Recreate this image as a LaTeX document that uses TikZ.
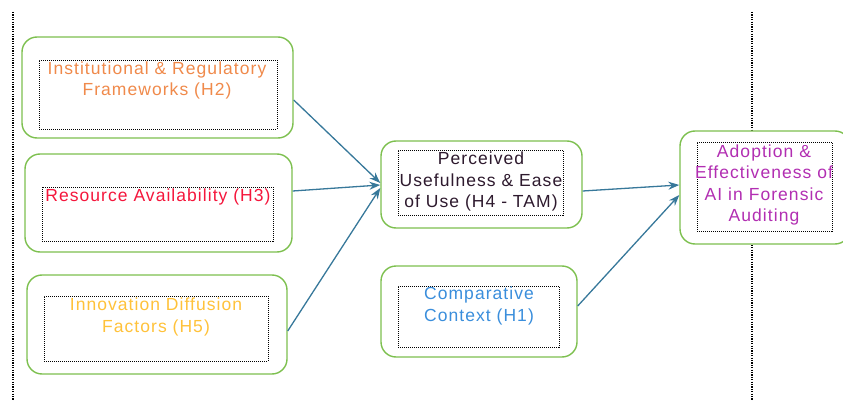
\documentclass[tikz,border=0pt]{standalone}
\usepackage{fontspec}
\setmainfont{Liberation Sans}[LetterSpace=6]
\usetikzlibrary{arrows.meta}

\definecolor{boxgreen}{HTML}{7DC04F}
\definecolor{arrowblue}{HTML}{37789A}
\definecolor{txtorange}{HTML}{F08A4B}
\definecolor{txtred}{HTML}{F5163C}
\definecolor{txtyellow}{HTML}{FFC23A}
\definecolor{txtdark}{HTML}{2E1A2E}
\definecolor{txtblue}{HTML}{3A8EDC}
\definecolor{txtpurple}{HTML}{B22EB2}

\begin{document}
\begin{tikzpicture}[x=1pt, y=-1pt,
    outerbox/.style={draw=boxgreen, line width=1.4pt, rounded corners=15pt, fill=white, inner sep=0pt},
    frame/.style={draw, dash pattern=on 1pt off 1pt, line width=0.9pt, inner sep=0pt},
    label/.style={align=center, inner sep=0pt, font=\fontsize{17.5}{21.5}\selectfont},
    link/.style={draw=arrowblue, line width=1.3pt, -{Stealth[length=11pt, width=8pt]}}]
    \useasboundingbox (0,0) rectangle (843,401);

    % Dotted separators
    \draw[dash pattern=on 1.2pt off 1.2pt, line width=1.2pt] (13,12) -- (13,401);
    \draw[dash pattern=on 1.2pt off 1.2pt, line width=1.2pt] (752,12) -- (752,401);

    % Left column
    \node[outerbox, minimum width=271, minimum height=101] (h2) at (157.5,87.5) {};
    \node[frame, minimum width=238, minimum height=69] (h2f) at (158,94.5) {};
    \node[label, text=txtorange] (h2t) at (157,80.5) {Institutional \& Regulatory\\Frameworks (H2)};

    \node[outerbox, minimum width=267, minimum height=98] (h3) at (158.5,203) {};
    \node[frame, minimum width=231, minimum height=54] (h3f) at (157.5,214) {};
    \node[label, text=txtred] (h3t) at (158,197) {Resource Availability (H3)};

    \node[outerbox, minimum width=260, minimum height=99] (h5) at (157,324.5) {};
    \node[frame, minimum width=224, minimum height=65] (h5f) at (156,328.5) {};
    \node[label, text=txtyellow] (h5t) at (156,317) {Innovation Diffusion\\Factors (H5)};

    % Middle column
    \node[outerbox, minimum width=201, minimum height=87] (h4) at (481.5,184.5) {};
    \node[frame, minimum width=165, minimum height=65] (h4f) at (480.5,182.5) {};
    \node[label, text=txtdark] (h4t) at (481,181.5) {Perceived\\Usefulness \& Ease\\of Use (H4 - TAM)};

    \node[outerbox, minimum width=196, minimum height=91] (h1) at (479,311.5) {};
    \node[frame, minimum width=161, minimum height=61] (h1f) at (478.5,316.5) {};
    \node[label, text=txtblue] (h1t) at (479,306) {Comparative\\Context (H1)};

    % Outcome
    \node[outerbox, minimum width=170, minimum height=113] (out) at (765,187.5) {};
    \node[frame, minimum width=135, minimum height=89] (outf) at (764.5,186.5) {};
    \node[label, text=txtpurple] (outt) at (764,185) {Adoption \&\\Effectiveness of\\AI in Forensic\\Auditing};

    % Paths
    \draw[link] ([yshift=-12.5pt]h2.east) -- ([yshift=1.5pt]h4.west);
    \draw[link] ([yshift=12pt]h3.east) -- ([yshift=-0.5pt]h4.west);
    \draw[link] ([yshift=-6.5pt]h5.east) -- ([yshift=-3.5pt]h4.west);
    \draw[link] ([yshift=-6.5pt]h4.east) -- ([yshift=2.5pt]out.west);
    \draw[link] ([yshift=5.5pt]h1.east) -- ([yshift=-7.5pt]out.west);
\end{tikzpicture}
\end{document}
